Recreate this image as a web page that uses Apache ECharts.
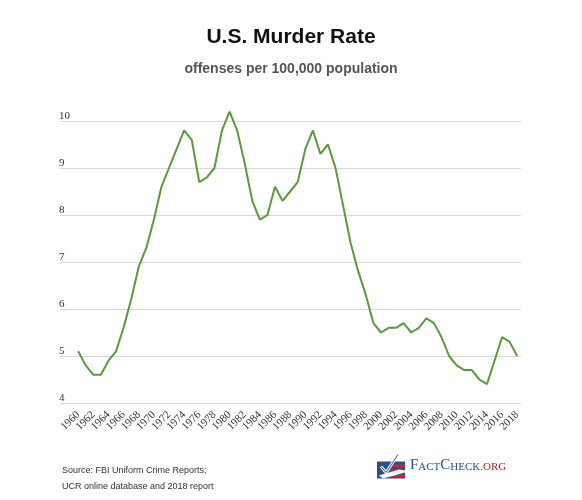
<!DOCTYPE html>
<html>
<head>
<meta charset="utf-8">
<script src="https://cdn.jsdelivr.net/npm/echarts@6/dist/echarts.min.js"></script>
<style>
html,body{margin:0;padding:0;background:#fff;}
#chart{width:582px;height:500px;}
</style>
</head>
<body>
<div id="chart"></div>
<script>
var years = [1960,1961,1962,1963,1964,1965,1966,1967,1968,1969,1970,1971,1972,1973,1974,1975,1976,1977,1978,1979,1980,1981,1982,1983,1984,1985,1986,1987,1988,1989,1990,1991,1992,1993,1994,1995,1996,1997,1998,1999,2000,2001,2002,2003,2004,2005,2006,2007,2008,2009,2010,2011,2012,2013,2014,2015,2016,2017,2018];
var murderRate = [5.1,4.8,4.6,4.6,4.9,5.1,5.6,6.2,6.9,7.3,7.9,8.6,9.0,9.4,9.8,9.6,8.7,8.8,9.0,9.8,10.2,9.8,9.1,8.3,7.9,8.0,8.6,8.3,8.5,8.7,9.4,9.8,9.3,9.5,9.0,8.2,7.4,6.8,6.3,5.7,5.5,5.6,5.6,5.7,5.5,5.6,5.8,5.7,5.4,5.0,4.8,4.7,4.7,4.5,4.4,4.9,5.4,5.3,5.0];
var xTickLabels = [1960,1962,1964,1966,1968,1970,1972,1974,1976,1978,1980,1982,1984,1986,1988,1990,1992,1994,1996,1998,2000,2002,2004,2006,2008,2010,2012,2014,2016,2018];

// split the labels over two overlaid axes so ECharts' min/max overlap check keeps them all
var labelsA = xTickLabels.filter(function(v,i){return i % 2 === 0;});
var labelsB = xTickLabels.filter(function(v,i){return i % 2 === 1;});

var chart = echarts.init(document.getElementById('chart'), null, {renderer:'canvas'});
var seriesData = years.map(function(y,i){return [y, murderRate[i]];});

function makeXAxis(vals){
  return {
    type:'value', min:1957.6, max:2018.5, position:'bottom', offset:0,
    axisLine:{show:false}, axisTick:{show:false}, splitLine:{show:false},
    axisLabel:{
      customValues:vals, rotate:45, margin:10,
      showMinLabel:true, showMaxLabel:true,
      fontFamily:'Liberation Serif', fontSize:11, color:'#333',
      formatter:function(v){return String(v);}
    }
  };
}

chart.setOption({
  backgroundColor:'#ffffff',
  animation:false,
  title:[
    {text:'U.S. Murder Rate', left:'center', top:22,
     textStyle:{fontFamily:'Liberation Sans', fontWeight:'bold', fontSize:21, color:'#111'}},
    {text:'offenses per 100,000 population', left:'center', top:57,
     textStyle:{fontFamily:'Liberation Sans', fontWeight:'bold', fontSize:14, color:'#555'}}
  ],
  grid:{left:60, right:61, top:121, bottom:97, containLabel:false},
  xAxis:[makeXAxis(labelsA), makeXAxis(labelsB)],
  yAxis:{
    type:'value', min:4, max:10, interval:1,
    axisLine:{show:false}, axisTick:{show:false},
    splitLine:{show:true, lineStyle:{color:'#d9d9d9', width:1}},
    axisLabel:{inside:true, margin:-1, verticalAlign:'bottom', lineHeight:9,
      fontFamily:'Liberation Serif', fontSize:11, color:'#333'}
  },
  series:[{
    type:'line', data:seriesData, xAxisIndex:0, clip:false, showSymbol:false, symbol:'none',
    lineStyle:{color:'#5a9a3a', width:2}
  }],
  graphic:[
    {type:'text', left:62, top:466, style:{text:'Source: FBI Uniform Crime Reports;', fontFamily:'Liberation Sans', fontSize:9, fill:'#333'}},
    {type:'text', left:62, top:482, style:{text:'UCR online database and 2018 report', fontFamily:'Liberation Sans', fontSize:9, fill:'#333'}},
    {type:'group', left:377, top:452, children:[
      {type:'rect', shape:{x:0, y:7, width:28, height:17}, style:{fill:'#2b4f8e'}},
      {type:'rect', shape:{x:12, y:10, width:16, height:2.5}, style:{fill:'#c8282e'}},
      {type:'rect', shape:{x:10, y:15, width:18, height:2.5}, style:{fill:'#c8282e'}},
      {type:'rect', shape:{x:8, y:20, width:20, height:2.5}, style:{fill:'#c8282e'}},
      {type:'polygon', shape:{points:[[2,21],[22,15],[28,16],[28,18],[6,24]]}, style:{fill:'#ffffff'}},
      {type:'polyline', shape:{points:[[4,12],[9,18],[21,0]]}, style:{stroke:'#ffffff', lineWidth:3, fill:null}},
      {type:'polyline', shape:{points:[[4,12],[9,18],[21,0]]}, style:{stroke:'#2b4f8e', lineWidth:1, fill:null}}
    ]},
    {type:'text', left:410, top:458, style:{
      text:'{b|F}{s|ACT}{b|C}{s|HECK}{r|.ORG}',
      rich:{
        b:{fontFamily:'Liberation Serif', fontSize:15, fill:'#2b4f8e', verticalAlign:'bottom'},
        s:{fontFamily:'Liberation Serif', fontSize:11, fill:'#2b4f8e', verticalAlign:'bottom'},
        r:{fontFamily:'Liberation Serif', fontSize:11, fill:'#b3282d', verticalAlign:'bottom'}
      }
    }}
  ]
});
</script>
</body>
</html>
